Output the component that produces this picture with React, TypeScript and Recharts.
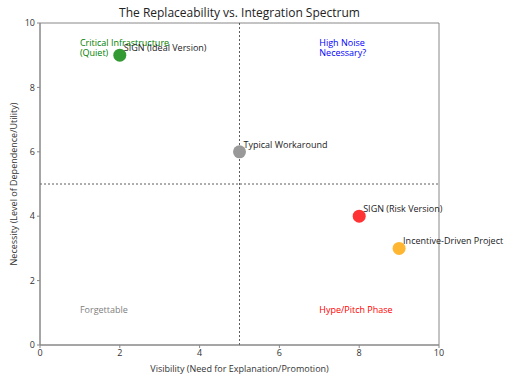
import React from 'react';
import { ScatterChart, Scatter, XAxis, YAxis, ReferenceLine, ReferenceArea } from 'recharts';

const pointNames = ['SIGN (Ideal Version)', 'Typical Workaround', 'SIGN (Risk Version)', 'Incentive-Driven Project'];
const pointX = [2, 5, 8, 9];
const pointY = [9, 6, 4, 3];
const pointColors = ['rgb(51,153,51)', 'rgb(153,153,153)', 'rgb(255,51,51)', 'rgb(255,183,51)'];

const quadLabels = [['Critical Infrastructure', '(Quiet)'], ['High Noise', 'Necessary?'], ['Forgettable'], ['Hype/Pitch Phase']];
const quadX = [1, 7, 1, 7];
const quadY = [9.3, 9.3, 1, 1];
const quadColors = ['green', 'blue', 'gray', 'red'];

const xTicks = [0, 2, 4, 6, 8, 10];
const yTicks = [0, 2, 4, 6, 8, 10];

const FONT = '"Open Sans", sans-serif';

const points = pointNames.map((n, i) => ({ name: n, x: pointX[i], y: pointY[i], color: pointColors[i] }));
const quads = quadLabels.map((l, i) => ({ lines: l, x: quadX[i], y: quadY[i], color: quadColors[i] }));

const PointShape = (props: any) => {
  const { cx, cy, payload } = props;
  return (
    <g>
      <circle cx={cx} cy={cy} r={6.5} fill={payload.color} />
      <text x={cx + 4} y={cy - 4} fontSize={9} fill="#222" fontFamily={FONT}>{payload.name}</text>
    </g>
  );
};

const QuadShape = (props: any) => {
  const { cx, cy, payload } = props;
  return (
    <text x={cx} y={cy} fontSize={9} fill={payload.color} fontFamily={FONT}>
      {payload.lines.map((l: string, i: number) => (
        <tspan key={i} x={cx} dy={i === 0 ? 0 : 10}>{l}</tspan>
      ))}
    </text>
  );
};

export default function App() {
  return (
    <div style={{ position: 'absolute', left: 0, top: 0, width: 512, height: 384, background: '#fff', fontFamily: FONT }}>
      <div style={{ position: 'absolute', left: 40, width: 399, top: 4, textAlign: 'center', fontSize: 12, color: '#222' }}>
        The Replaceability vs. Integration Spectrum
      </div>
      <ScatterChart width={512} height={384} margin={{ top: 23, right: 73, bottom: 0, left: 10 }}>
        <XAxis
          type="number"
          dataKey="x"
          domain={[0, 10]}
          ticks={xTicks}
          height={39}
          stroke="#888"
          tick={{ fill: '#333', fontSize: 9, fontFamily: FONT }}
          tickSize={3}
          label={{ value: 'Visibility (Need for Explanation/Promotion)', position: 'insideBottom', offset: 12, fontSize: 9, fill: '#333', fontFamily: FONT }}
        />
        <YAxis
          type="number"
          dataKey="y"
          domain={[0, 10]}
          ticks={yTicks}
          width={30}
          stroke="#888"
          tick={{ fill: '#333', fontSize: 9, fontFamily: FONT }}
          tickSize={3}
          label={{ value: 'Necessity (Level of Dependence/Utility)', angle: -90, position: 'insideLeft', offset: 0, dx: 4, style: { textAnchor: 'middle' }, fontSize: 9, fill: '#333', fontFamily: FONT }}
        />
        <ReferenceArea x1={0} x2={10} y1={0} y2={10} fill="none" stroke="#888" strokeWidth={1} ifOverflow="visible" />
        <ReferenceLine x={5} stroke="#333" strokeDasharray="2 2" strokeWidth={0.8} />
        <ReferenceLine y={5} stroke="#333" strokeDasharray="2 2" strokeWidth={0.8} />
        <Scatter data={quads} shape={QuadShape} isAnimationActive={false} />
        <Scatter data={points} shape={PointShape} isAnimationActive={false} />
      </ScatterChart>
    </div>
  );
}
